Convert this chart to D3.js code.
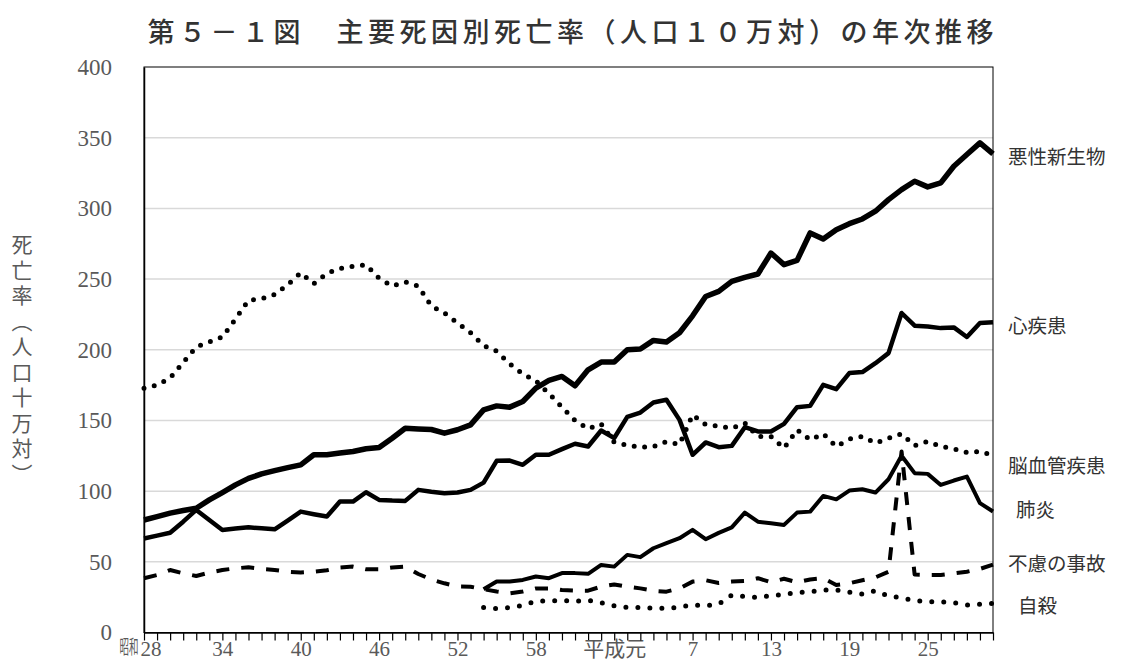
<!DOCTYPE html>
<html>
<head>
<meta charset="utf-8">
<script src="https://cdn.jsdelivr.net/npm/d3@7"></script>
<style>
  body { margin: 0; background: #fff; }
  svg { display: block; }
</style>
</head>
<body>
<div id="chart-container"></div>
<script>
// 昭和28年(1953) 〜 平成30年(2018)
const years = d3.range(1953, 2019);
const tickLabels = ["昭和28", "34", "40", "46", "52", "58", "平成元", "7", "13", "19", "25"];
const yTicks = [0, 50, 100, 150, 200, 250, 300, 350, 400];

const cancer = [79.6, 82, 84.4, 86.3, 87.9, 93.8, 99, 104.4, 109, 112.2, 114.5, 116.6, 118.6, 125.7, 125.7, 126.9, 128, 130, 130.8, 137.4,
  144.5, 144, 143.6, 141, 143.4, 146.9, 157.5, 160.3, 159.4, 163.4, 172.9, 178.3, 181.1, 174.5, 185.8, 191.3, 191.3, 200, 200.5, 206.6,
  205.5, 212, 224, 237.7, 241.3, 248.4, 251.2, 253.6, 268.4, 260.2, 263.2, 282.6, 278.3, 284.9, 289.2, 292.5, 298, 306.2, 313.3, 319.2,
  315.2, 318, 329.8, 338.1, 346.3, 338.5];
const heart = [66.5, 68.5, 70.6, 78.4, 86.7, 79.6, 72.5, 73.5, 74.4, 73.7, 73, 79.2, 85.5, 83.7, 82, 92.6, 92.6, 99.2, 93.8, 93.3,
  93.1, 100.9, 99.5, 98.5, 99, 100.9, 106, 121.4, 121.6, 118.6, 125.7, 125.7, 129.7, 133.5, 131.6, 142.9, 137.6, 152.5, 155.6, 162.7,
  164.6, 150.4, 125.7, 134.4, 131.1, 132, 145.2, 142.2, 142.2, 147.6, 159.4, 160.3, 175.2, 172.1, 183.5, 184.2, 190.5, 197.6, 226, 217,
  216.5, 215.3, 215.8, 209, 218.9, 219.4];
const stroke = [172.8, 175, 180, 191, 202, 205.5, 209, 221.7, 235, 236, 239, 246, 254.4, 246.8, 254, 257.5, 259, 260, 250.5, 245,
  248, 245, 231, 226, 219, 212, 203, 199, 190, 183, 178, 169, 159.5, 150, 144, 147.5, 134.5, 132.5, 131, 131.5,
  135, 133, 154, 147, 146, 144.5, 148.1, 138.6, 138.6, 130.4, 143.4, 136.3, 140.6, 131.6, 136.8, 138.6, 133.9, 137.4, 140.6, 132.1,
  135.1, 131.6, 129.9, 127.4, 128, 125.2];
const pneumonia = [null, null, null, null, null, null, null, null, null, null, null, null, null, null, null, null, null, null, null, null,
  null, null, null, null, null, null, 30.6, 36.1, 36.1, 37.2, 39.6, 38.4, 42, 42, 41.5, 47.8, 46.6, 54.9, 53.3, 59.6,
  63.2, 66.7, 72.6, 66, 70.5, 74.4, 84.8, 78.4, 77.3, 76.1, 84.8, 85.5, 96.6, 94.2, 100.4, 101.3, 99, 108.4, 125, 112.7,
  112.2, 104.4, 107.5, 110.3, 91.5, 85.6];
const accident = [38.4, 40.7, 44.2, 41.9, 40, 42.4, 44.2, 45.4, 46.1, 44.9, 44.2, 43, 42.5, 43, 44, 46, 46.6, 44.7, 44.7, 46,
  46.6, 41.4, 37.5, 34.8, 32.5, 32.4, 30.6, 29, 27.7, 29, 31.2, 31.2, 30, 29.6, 29.6, 32.5, 34, 32.4, 31.2, 29.5,
  28.9, 31.2, 36, 37, 35, 36, 36.5, 38.4, 35.5, 38, 35.5, 37.5, 38.4, 33.6, 34.8, 37, 39, 43, 128, 41,
  40.7, 40.7, 41.8, 43, 45, 48];
const suicide = [null, null, null, null, null, null, null, null, null, null, null, null, null, null, null, null, null, null, null, null,
  null, null, null, null, null, null, 17.6, 16.9, 17.6, 19.2, 22.1, 22.3, 22.8, 22, 22.8, 21.1, 18.8, 17.8, 17.6, 17.3,
  17, 18, 19.5, 19, 20, 26.5, 25.5, 24.8, 26, 27, 28.4, 28.7, 30, 30, 28.5, 27.2, 29.6, 25.8, 24.5, 22.5,
  21.8, 21.8, 21, 19.5, 20, 20.5];

const seriesNames = ["悪性新生物", "心疾患", "脳血管疾患", "肺炎", "不慮の事故", "自殺"];

const margin = { top: 67, right: 139, bottom: 29.5, left: 144 };
const W = 1132, H = 662;
const width = W - margin.left - margin.right;
const height = H - margin.top - margin.bottom;

const serif = "'Liberation Serif', 'DejaVu Serif', 'Noto Sans CJK JP', serif";
const gothic = "'Noto Sans CJK JP', sans-serif";

const svg = d3.select("#chart-container")
  .append("svg")
  .attr("width", W)
  .attr("height", H);

const x = d3.scaleLinear()
  .domain([years[0], years[years.length - 1]])
  .range([margin.left, margin.left + width]);

const y = d3.scaleLinear()
  .domain([0, 400])
  .range([margin.top + height, margin.top]);

// title
svg.append("text")
  .attr("x", margin.left + width / 2 + 2)
  .attr("y", 42)
  .attr("text-anchor", "middle")
  .attr("font-family", gothic)
  .attr("font-size", 27)
  .attr("font-weight", 500)
  .attr("fill", "#333")
  .attr("textLength", 846)
  .attr("lengthAdjust", "spacing")
  .text("第５－１図　主要死因別死亡率（人口１０万対）の年次推移");

// gridlines
svg.append("g")
  .selectAll("line")
  .data(yTicks.filter(d => d > 0 && d < 400))
  .join("line")
  .attr("x1", margin.left)
  .attr("x2", margin.left + width)
  .attr("y1", d => y(d))
  .attr("y2", d => y(d))
  .attr("stroke", "#d9d9d9")
  .attr("stroke-width", 1.5);

// frame
svg.append("rect")
  .attr("x", margin.left)
  .attr("y", margin.top)
  .attr("width", width)
  .attr("height", height)
  .attr("fill", "none")
  .attr("stroke", "#000")
  .attr("stroke-width", 1);

// y axis
const yAxis = svg.append("g")
  .attr("transform", `translate(${margin.left},0)`)
  .call(d3.axisLeft(y).tickValues(yTicks).tickSize(0).tickPadding(32));
yAxis.select(".domain").attr("stroke", "#000").attr("stroke-width", 1.5);
yAxis.selectAll(".tick text")
  .attr("font-family", serif)
  .attr("font-size", 23)
  .attr("fill", "#595959");

// x axis
const tickYears = tickLabels.map((t, i) => years[0] + i * 6);
const xAxis = svg.append("g")
  .attr("transform", `translate(0,${y(0)})`)
  .call(d3.axisBottom(x)
    .tickValues(years)
    .tickSize(8)
    .tickSizeOuter(0)
    .tickFormat(d => {
      const k = tickYears.indexOf(d);
      return k >= 0 ? tickLabels[k] : "";
    }));
xAxis.select(".domain").attr("stroke", "#000").attr("stroke-width", 1.5);
xAxis.selectAll(".tick line").attr("stroke", "#000").attr("stroke-width", 1.2);
xAxis.selectAll(".tick text")
  .attr("font-family", serif)
  .attr("font-size", 21)
  .attr("fill", "#595959")
  .attr("y", 8.5);

// the era name in front of the first year is squeezed, like the original
xAxis.selectAll(".tick text")
  .filter(function () { return this.textContent.startsWith("昭和"); })
  .each(function () {
    const t = d3.select(this);
    const label = t.text();
    const g = d3.select(this.parentNode);
    t.text(label.slice(2)).attr("text-anchor", "start").attr("x", -4);
    g.append("text")
      .attr("transform", "translate(-6,0) scale(0.5,1)")
      .attr("y", 8.5)
      .attr("dy", "0.71em")
      .attr("text-anchor", "end")
      .attr("font-family", gothic)
      .attr("font-size", 19)
      .attr("fill", "#595959")
      .text(label.slice(0, 2));
  });

// y axis title (vertical)
svg.append("text")
  .attr("x", 22)
  .attr("y", 234)
  .attr("font-family", gothic)
  .attr("font-size", 21)
  .attr("fill", "#595959")
  .attr("letter-spacing", 4.5)
  .style("writing-mode", "vertical-rl")
  .text("死亡率（人口十万対）");

// lines
const styles = [
  { values: cancer, width: 5.5, dash: null, cap: "butt", labelX: 1008, labelDy: 3 },
  { values: heart, width: 4.5, dash: null, cap: "butt", labelX: 1008, labelDy: 4 },
  { values: stroke, width: 5, dash: "0,10.5", cap: "round", labelX: 1008, labelDy: 11 },
  { values: pneumonia, width: 4, dash: null, cap: "butt", labelX: 1016, labelDy: -1 },
  { values: accident, width: 4, dash: "13,12", cap: "butt", labelX: 1008, labelDy: 0 },
  { values: suicide, width: 5, dash: "0,12", cap: "round", labelX: 1018, labelDy: 3 }
];

const line = d3.line()
  .defined(d => d != null)
  .x((d, i) => x(years[i]))
  .y(d => y(d));

const drawOrder = [2, 5, 4, 3, 1, 0];
drawOrder.forEach(k => {
  const s = styles[k];
  svg.append("path")
    .datum(s.values)
    .attr("d", line)
    .attr("fill", "none")
    .attr("stroke", "#000")
    .attr("stroke-width", s.width)
    .attr("stroke-linejoin", "round")
    .attr("stroke-linecap", s.cap)
    .attr("stroke-dasharray", s.dash);
});

// series labels at the right end
styles.forEach((s, k) => {
  const last = s.values[s.values.length - 1];
  svg.append("text")
    .attr("x", s.labelX)
    .attr("y", y(last) + s.labelDy)
    .attr("dy", "0.35em")
    .attr("font-family", gothic)
    .attr("font-size", 19.5)
    .attr("fill", "#333")
    .text(seriesNames[k]);
});
</script>
</body>
</html>
